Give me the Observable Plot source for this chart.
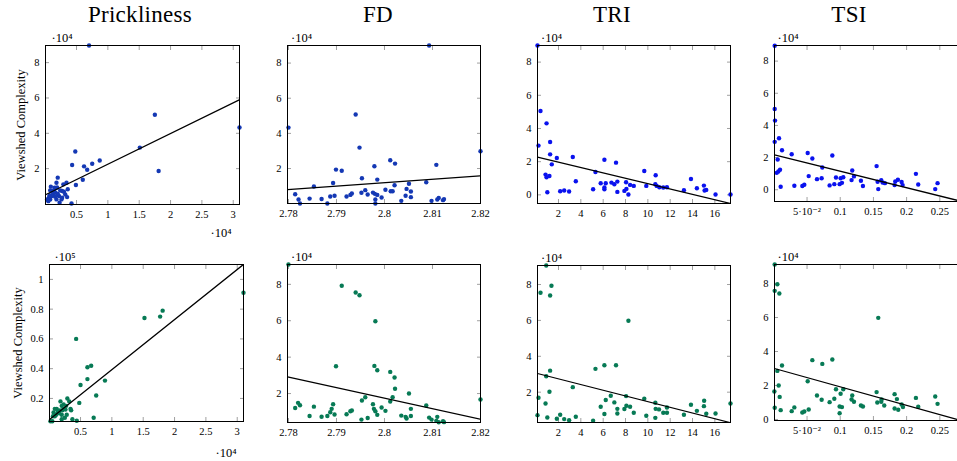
<!DOCTYPE html>
<html><head><meta charset="utf-8">
<script src="https://cdn.jsdelivr.net/npm/d3@7"></script>
<script src="https://cdn.jsdelivr.net/npm/@observablehq/plot@0.6"></script>
<style>
body{margin:0;background:#fff;}
#fig{position:relative;width:957px;height:461px;overflow:hidden;font-family:"Liberation Serif","Times New Roman","DejaVu Serif",serif;background:#fff;}
.title{position:absolute;top:3px;width:200px;text-align:center;font-size:23px;line-height:23px;letter-spacing:0.3px;color:#000;}
.panel{position:absolute;}
</style></head><body><div id="fig"></div>
<script>
// ---- text ----
const titles = ["Prickliness", "FD", "TRI", "TSI"];
const yTitle = "Viewshed Complexity";
const exp4 = "·10⁴", exp5 = "·10⁵";

// ---- ticks ----
const prickTicks = [0.5, 1, 1.5, 2, 2.5, 3];
const fdTicks = [2.78, 2.79, 2.8, 2.81, 2.82];
const triTicks = [2, 4, 6, 8, 10, 12, 14, 16];
const tsiTicks = [0.05, 0.1, 0.15, 0.2, 0.25];
const tsiTickLabels = ["5·10⁻²", "0.1", "0.15", "0.2", "0.25"];
const yTicksA = [2, 4, 6, 8];
const yTicksB = [0, 2, 4, 6, 8];
const yTicksP = [0.2, 0.4, 0.6, 0.8, 1];

// ---- row 1 (blue) ----
const prickX1 = [0.70,1.75,3.10,1.51,1.81,0.48,0.43,0.87,0.75,0.62,0.67,0.60,0.49,0.20,0.34,0.29,0.18,0.09,0.14,0.24,0.36,0.30,0.06,0.03,0.08,0.13,0.16,0.22,0.27,0.23,0.42,0.18,0.11,0.15,0.20,0.32,0.05,0.27,0.07,0.12,0.19,0.08,0.16,0.26,0.35];
const prickY1 = [8.97,5.05,4.33,3.19,1.87,2.97,2.21,2.46,2.28,2.13,1.94,1.37,1.07,1.49,1.20,1.11,1.20,0.98,0.77,0.77,0.83,0.69,0.35,0.26,0.26,0.54,0.64,0.45,0.35,0.07,0.03,0.26,0.45,0.92,0.58,0.54,0.16,0.73,0.50,0.68,0.93,0.77,0.41,0.26,0.39];
const fdX1 = [2.7800,2.8093,2.8200,2.7940,2.7948,2.7899,2.7911,2.7979,2.8012,2.8022,2.8108,2.7953,2.7985,2.7853,2.7893,2.8087,2.8051,2.8021,2.7814,2.7821,2.7824,2.7844,2.7869,2.7881,2.7887,2.7896,2.7921,2.7929,2.7932,2.7952,2.7960,2.7965,2.7976,2.7980,2.7985,2.7981,2.7981,2.7994,2.8002,2.8013,2.8017,2.8035,2.8044,2.8046,2.8055,2.8055,2.8098,2.8110,2.8113,2.8122,2.8124];
const fdY1 = [4.33,9.0,2.98,5.07,3.19,1.94,1.87,2.13,2.47,2.28,2.21,1.45,1.37,0.98,1.18,1.22,1.13,1.05,0.54,0.24,0.01,0.29,0.27,0.01,0.41,0.45,0.41,0.50,0.58,0.62,0.77,0.52,0.63,0.56,0.50,0.24,0.01,0.35,0.79,0.71,0.71,0.16,0.45,0.84,0.69,0.37,0.16,0.24,0.33,0.20,0.26];
const triX1 = [0.12,0.39,0.93,0.21,1.25,1.25,1.40,1.85,3.28,0.84,0.93,1.19,1.00,2.15,2.51,2.95,3.55,5.10,5.31,5.78,6.11,6.11,6.11,6.23,6.74,7.00,7.15,7.27,7.27,7.90,8.05,8.08,8.26,8.41,8.74,9.68,9.86,10.70,10.67,10.79,11.03,11.38,11.71,13.23,13.86,14.39,15.02,15.08,15.23,16.06,17.40];
const triY1 = [9.0,5.05,4.31,2.97,3.19,2.44,1.84,2.22,2.28,1.22,1.06,1.14,0.16,0.22,0.26,0.20,0.82,0.34,1.38,0.70,2.12,0.44,0.34,0.70,0.74,0.64,1.94,0.80,0.18,0.24,0.76,0.36,0.02,0.60,0.54,1.44,0.54,1.18,0.64,0.54,0.46,0.44,0.46,0.28,0.96,0.40,0.56,0.26,0.30,0.02,0.02];
const tsiX1 = [0.0013,0.0013,0.0018,0.0013,0.0078,0.0123,0.0058,0.0043,0.0068,0.0093,0.0103,0.0269,0.0309,0.0429,0.0459,0.0510,0.0525,0.0580,0.0650,0.0720,0.0730,0.0840,0.0881,0.0911,0.0936,0.0991,0.1006,0.1026,0.1046,0.1181,0.1171,0.1207,0.1312,0.1342,0.1548,0.1563,0.1573,0.1618,0.1638,0.1673,0.1819,0.1829,0.1869,0.1925,0.1940,0.2140,0.2175,0.2431,0.2466];
const tsiY1 = [8.95,5.02,4.30,2.98,3.20,2.46,1.88,1.05,1.14,1.24,0.19,2.21,0.25,0.23,0.31,2.29,0.85,1.94,0.66,0.72,1.38,0.27,2.13,0.35,0.76,0.35,0.72,0.43,0.78,1.20,0.60,0.83,0.56,0.23,1.47,0.50,0.04,0.60,0.45,0.41,0.29,0.52,0.62,0.48,0.29,0.99,0.33,0.04,0.41];

// ---- row 2 (green) ----
const prickX2 = [3.10,1.81,1.77,1.52,0.43,0.61,0.67,0.61,0.89,0.50,0.75,0.48,0.71,0.44,0.37,0.29,0.32,0.18,0.23,0.27,0.20,0.12,0.09,0.17,0.14,0.11,0.09,0.21,0.34,0.28,0.25,0.20,0.20,0.35,0.05,0.02,0.06,0.16,0.07,0.23,0.26];
const prickY2 = [0.91,0.79,0.75,0.74,0.60,0.41,0.42,0.33,0.32,0.29,0.22,0.17,0.07,0.05,0.06,0.20,0.18,0.18,0.16,0.15,0.15,0.13,0.13,0.12,0.11,0.09,0.08,0.12,0.13,0.09,0.07,0.06,0.09,0.12,0.047,0.047,0.08,0.10,0.105,0.13,0.125];
const fdX2 = [2.7800,2.7911,2.7940,2.7948,2.7981,2.7899,2.7979,2.7985,2.8012,2.8021,2.8022,2.8051,2.8200,2.7960,2.7953,2.8017,2.8012,2.8087,2.7820,2.7824,2.7814,2.7853,2.7893,2.7890,2.7887,2.7896,2.7881,2.7869,2.7844,2.7921,2.7929,2.7932,2.7976,2.7978,2.7981,2.7985,2.7994,2.8002,2.8055,2.8055,2.8035,2.8044,2.8046,2.7952,2.7965,2.8093,2.8098,2.8110,2.8108,2.8113,2.8122,2.8124];
const fdY2 = [9.09,7.92,7.55,7.40,5.97,3.50,3.52,3.28,3.19,2.88,2.26,2.00,1.67,1.80,1.62,1.80,1.56,1.34,1.49,1.36,1.21,1.28,1.41,1.16,0.97,0.85,0.77,0.73,0.77,0.86,1.03,1.07,1.41,1.16,1.03,0.83,1.23,1.05,1.16,0.77,0.79,0.72,0.63,0.57,0.66,0.68,0.57,0.72,0.50,0.42,0.48,0.43];
const triX2 = [0.90,0.39,1.37,1.25,8.26,1.25,0.90,5.31,6.11,7.15,3.28,1.19,0.21,0.84,0.12,1.00,1.85,2.15,2.51,2.95,3.55,5.10,5.78,6.23,6.11,6.68,7.00,7.27,7.27,8.05,8.08,7.90,8.41,8.74,9.68,9.86,10.67,10.67,10.70,11.00,11.38,11.71,11.71,13.23,13.86,14.39,15.04,15.02,15.23,16.06,17.40];
const triY2 = [9.06,7.54,7.93,7.39,5.98,3.20,2.89,3.30,3.50,3.50,2.28,2.02,1.69,1.37,0.72,0.59,0.52,0.74,0.50,0.44,0.63,0.41,1.19,1.56,0.78,1.80,1.43,1.07,0.81,1.78,1.24,1.06,1.19,0.85,1.63,0.69,1.41,0.57,1.07,1.04,0.85,1.15,0.85,0.74,1.30,0.96,1.52,1.22,0.80,0.81,1.37];
const tsiX2 = [0.0013,0.0053,0.0013,0.0083,0.1573,0.0580,0.0881,0.0730,0.0123,0.0053,0.0510,0.0073,0.0008,0.0088,0.0013,0.0103,0.0269,0.0309,0.0429,0.0459,0.0525,0.0650,0.0720,0.0840,0.0911,0.0936,0.1006,0.0991,0.1026,0.0991,0.1046,0.1181,0.1171,0.1207,0.1312,0.1342,0.1548,0.1558,0.1618,0.1623,0.1663,0.1819,0.1819,0.1854,0.1874,0.1925,0.1945,0.2140,0.2175,0.2431,0.2466];
const tsiY2 = [9.12,7.96,7.57,7.41,5.98,3.49,3.53,3.27,3.18,2.86,2.25,2.00,1.65,1.33,0.69,0.55,0.49,0.71,0.41,0.47,0.59,1.41,1.16,1.02,1.22,1.78,1.51,0.76,0.73,0.37,1.78,1.41,1.18,1.04,0.82,0.76,1.61,1.00,1.04,1.18,0.82,1.49,0.65,1.20,0.57,0.88,0.73,1.27,0.75,1.35,0.92];

// ---- axis ranges and regression-line end values (y at xmin, y at xmax) ----
const prickXRange = [0.005, 3.1], fdXRange = [2.7798, 2.82], triXRange = [0.12, 17.4], tsiXRange = [0.001, 0.2917];
const yRange1 = [[-0.03, 8.97], [0.01, 9.0], [-0.52, 9.0], [-0.73, 8.97]];
const yRange2 = [[0.045, 1.1], [0.41, 9.09], [0.31, 9.06], [-0.06, 9.12]];
const fit1 = [[0.52, 5.90], [0.80, 1.58], [2.28, -0.52], [2.17, -0.815]];
const fit2 = [[0.058, 1.10], [2.92, 0.59], [3.04, 0.30], [3.0, -0.17]];

const blueDark = "#1438b4", blueBright = "#0a12ee", green = "#077a55";

// ---- layout (frame boxes in page pixels) ----
const frames = [
  {L:45, T:45, R:239, B:204}, {L:287, T:45, R:480, B:203}, {L:537, T:45, R:730, B:203}, {L:774, T:45, R:967, B:201},
  {L:49, T:264, R:243, B:421}, {L:287, T:264, R:480, B:422}, {L:537, T:265, R:730, B:422}, {L:774, T:264, R:967, B:420}
];
const titleCenters = [140, 378, 612, 849];

const panels = [
  {xs:prickX1, ys:prickY1, xr:prickXRange, yr:yRange1[0], fit:fit1[0], xt:prickTicks, yt:yTicksA, color:blueDark, yexp:exp4, yexpDx:6, xexp:exp4, xexpDx:-8, xexpDy:28, ylab:-25},
  {xs:fdX1, ys:fdY1, xr:fdXRange, yr:yRange1[1], fit:fit1[1], xt:fdTicks, yt:yTicksA, color:blueDark, yexp:exp4, yexpDx:3.5},
  {xs:triX1, ys:triY1, xr:triXRange, yr:yRange1[2], fit:fit1[2], xt:triTicks, yt:yTicksB, color:blueBright, yexp:exp4, yexpDx:3.5},
  {xs:tsiX1, ys:tsiY1, xr:tsiXRange, yr:yRange1[3], fit:fit1[3], xt:tsiTicks, xl:tsiTickLabels, yt:yTicksB, color:blueBright, yexp:exp4, yexpDx:3},
  {xs:prickX2, ys:prickY2, xr:prickXRange, yr:yRange2[0], fit:fit2[0], xt:prickTicks, yt:yTicksP, color:green, yexp:exp5, yexpDx:5, xexp:exp4, xexpDx:-7, xexpDy:31, ylab:-32},
  {xs:fdX2, ys:fdY2, xr:fdXRange, yr:yRange2[1], fit:fit2[1], xt:fdTicks, yt:yTicksA, color:green, yexp:exp4, yexpDx:3.5},
  {xs:triX2, ys:triY2, xr:triXRange, yr:yRange2[2], fit:fit2[2], xt:triTicks, yt:yTicksA, color:green, yexp:exp4, yexpDx:3.5},
  {xs:tsiX2, ys:tsiY2, xr:tsiXRange, yr:yRange2[3], fit:fit2[3], xt:tsiTicks, xl:tsiTickLabels, yt:yTicksB, color:green, yexp:exp4, yexpDx:3}
];

const fig = document.getElementById("fig");
titles.forEach((t, i) => {
  const d = document.createElement("div");
  d.className = "title";
  d.textContent = t;
  d.style.left = (titleCenters[i] - 100) + "px";
  fig.appendChild(d);
});

const ML = 50, MT = 30, MR = 15, MB = 40;
const tickColor = "#a0a0a0";
const serif = "'Liberation Serif', 'Times New Roman', 'DejaVu Serif', serif";
const tickFont = 10.5, expFont = 12.5;

panels.forEach((p, k) => {
  const f = frames[k];
  const w = f.R - f.L, h = f.B - f.T;
  const data = p.xs.map((x, i) => ({x, y: p.ys[i]}));
  const fitData = p.xr.map((x, i) => ({x, y: p.fit[i]}));
  const fmtX = d => p.xl ? p.xl[p.xt.indexOf(d)] : String(d);
  const marks = [
    Plot.axisX(p.xt, {anchor: "bottom", tickSize: -4, tickPadding: 10, stroke: tickColor, fill: "black", tickFormat: fmtX, label: null, fontFamily: serif, fontSize: tickFont}),
    Plot.axisX(p.xt, {anchor: "top", tickSize: -4, tickPadding: 0, stroke: tickColor, tickFormat: () => "", label: null}),
    Plot.axisY(p.yt, {anchor: "left", tickSize: -4, tickPadding: 10, stroke: tickColor, fill: "black", tickFormat: d => String(d), label: null, fontFamily: serif, fontSize: tickFont}),
    Plot.axisY(p.yt, {anchor: "right", tickSize: -4, tickPadding: 0, stroke: tickColor, tickFormat: () => "", label: null}),
    Plot.dot(data, {x: "x", y: "y", r: 2.2, fill: p.color, stroke: "none"}),
    Plot.line(fitData, {x: "x", y: "y", stroke: "black", strokeWidth: 1.25, clip: true}),
    Plot.frame({stroke: "black", strokeWidth: 1}),
    Plot.text([p.yexp], {frameAnchor: "top-left", dx: p.yexpDx, dy: -8, textAnchor: "start", lineAnchor: "middle", fontSize: expFont, fontFamily: serif})
  ];
  if (p.xexp) marks.push(Plot.text([p.xexp], {frameAnchor: "bottom-right", dx: p.xexpDx, dy: p.xexpDy, textAnchor: "end", lineAnchor: "middle", fontSize: expFont, fontFamily: serif}));
  if (p.ylab) marks.push(Plot.text([yTitle], {frameAnchor: "left", dx: p.ylab, rotate: -90, textAnchor: "middle", lineAnchor: "middle", fontSize: 12.5, fontFamily: serif}));
  const svg = Plot.plot({
    width: w + ML + MR, height: h + MT + MB,
    marginLeft: ML, marginRight: MR, marginTop: MT, marginBottom: MB,
    x: {domain: p.xr}, y: {domain: p.yr},
    style: {background: "transparent", overflow: "visible", maxWidth: "none", fontFamily: serif, fontSize: "10.5px", color: "black"},
    marks
  });
  const wrap = document.createElement("div");
  wrap.className = "panel";
  wrap.style.left = (f.L - ML) + "px";
  wrap.style.top = (f.T - MT) + "px";
  wrap.appendChild(svg);
  fig.appendChild(wrap);
});
</script>
</body></html>
